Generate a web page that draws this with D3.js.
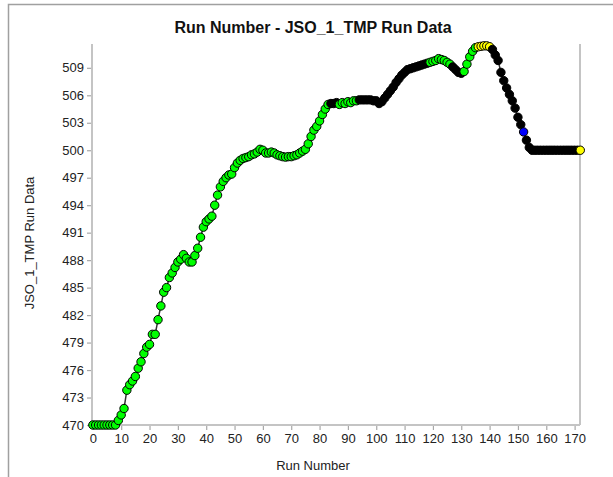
<!DOCTYPE html>
<html>
<head>
<meta charset="utf-8">
<script src="https://cdn.jsdelivr.net/npm/d3@7"></script>
<style>
  body { margin: 0; background: #fff; }
  text { font-family: Arial, "Liberation Sans", sans-serif; }
</style>
</head>
<body>
<div id="chart"></div>
<script>
// run values, one per run number starting at 0
const runValues = [
  470, 470, 470, 470, 470, 470, 470, 470, 470, 470.5,
  471.1, 471.8, 473.8, 474.4, 474.8, 475.3, 476.2, 476.9, 477.8, 478.5,
  478.8, 479.9, 479.9, 481.5, 483.0, 484.5, 485.0, 486.1, 486.6, 487.2,
  487.8, 488.1, 488.6, 488.2, 487.8, 487.8, 488.5, 489.3, 490.5, 491.6,
  492.2, 492.5, 492.8, 494.0, 495.1, 496.0, 496.6, 497.0, 497.3, 497.4,
  498.1, 498.6, 498.9, 499.1, 499.2, 499.3, 499.5, 499.6, 499.8, 500.1,
  500.0, 499.7, 499.7, 499.8, 499.7, 499.5, 499.4, 499.3, 499.25, 499.3,
  499.3, 499.4, 499.5, 499.7, 499.9, 500.1, 500.7, 501.5, 502.2, 502.6,
  503.2, 503.9, 504.5, 505.0, 505.1, 505.1, 505.2, 505.0, 505.2, 505.1,
  505.3, 505.2, 505.4, 505.4, 505.5, 505.5, 505.5, 505.5, 505.5, 505.4,
  505.4, 505.1, 505.3, 505.7, 506.1, 506.5, 506.9, 507.4, 507.8, 508.2,
  508.5, 508.8, 508.9, 509.0, 509.1, 509.2, 509.3, 509.4, 509.5, 509.6,
  509.7, 509.8, 510.0, 509.9, 509.8, 509.6, 509.4, 509.1, 508.8, 508.5,
  508.4, 508.6, 509.4, 510.2, 510.8, 511.2, 511.3, 511.35, 511.4, 511.4,
  511.3, 511.0, 510.4, 509.8, 508.5, 507.6, 506.8, 506.1, 505.4, 504.6,
  503.6, 502.8, 502.0, 501.1, 500.3, 500.0, 500.0, 500.0, 500.0, 500.0,
  500.0, 500.0, 500.0, 500.0, 500.0, 500.0, 500.0, 500.0, 500.0, 500.0,
  500.0, 500.0, 500.0
];

// marker status changes: first run of each segment and its status
const segStart  = [0,    84,     87,    94,     119,   127,    131,   136,      141,    152,    153,    172];
const segStatus = ["ok", "hold", "ok",  "hold", "ok",  "hold", "ok",  "warn",   "hold", "flag", "hold", "warn"];

const statusColors = { ok: "#00ff00", hold: "#000000", warn: "#ffff00", flag: "#0000ff" };

const xTicks = d3.range(0, 171, 10);
const yTicks = d3.range(470, 510, 3);

const title = "Run Number - JSO_1_TMP Run Data";
const xTitle = "Run Number";
const yTitle = "JSO_1_TMP Run Data";

const width = 613, height = 477;
const plotLeft = 92, plotRight = 580, plotTop = 44, plotBottom = 425;

function statusOf(i) {
  let s = segStatus[0];
  segStart.forEach((st, k) => { if (i >= st) s = segStatus[k]; });
  return s;
}

const data = runValues.map((v, i) => ({ run: i, value: v, status: statusOf(i) }));

const x = d3.scaleLinear().domain([-0.3, 171.9]).range([plotLeft, plotRight]);
const y = d3.scaleLinear().domain([470, 511.6]).range([plotBottom, plotTop]);

const svg = d3.select("#chart").append("svg")
  .attr("width", width)
  .attr("height", height);

// outer frame
svg.append("rect")
  .attr("x", 8.5).attr("y", 4.5)
  .attr("width", width + 10).attr("height", height + 10)
  .attr("fill", "none")
  .attr("stroke", "#a0a0a0")
  .attr("stroke-width", 1.5);

svg.append("text")
  .attr("x", 313).attr("y", 33)
  .attr("text-anchor", "middle")
  .attr("font-size", 16)
  .attr("font-weight", "bold")
  .attr("fill", "#111")
  .text(title);

// axes
const xAxis = svg.append("g")
  .attr("transform", `translate(0,${plotBottom})`)
  .call(d3.axisBottom(x).tickValues(xTicks).tickSize(5).tickPadding(4));
const yAxis = svg.append("g")
  .attr("transform", `translate(${plotLeft},0)`)
  .call(d3.axisLeft(y).tickValues(yTicks).tickSize(5).tickPadding(3));

[xAxis, yAxis].forEach(g => {
  g.select(".domain").remove();
  g.selectAll(".tick line").attr("stroke", "#a8a8a8").attr("stroke-width", 1.2);
  g.selectAll(".tick text")
    .attr("font-size", 13)
    .attr("font-family", "Arial, 'Liberation Sans', sans-serif")
    .attr("fill", "#222");
});

// axis lines
svg.append("line")
  .attr("x1", plotLeft).attr("x2", plotLeft).attr("y1", plotTop).attr("y2", plotBottom)
  .attr("stroke", "#c4c4c4").attr("stroke-width", 2);
svg.append("line")
  .attr("x1", plotLeft).attr("x2", plotRight).attr("y1", plotBottom).attr("y2", plotBottom)
  .attr("stroke", "#c4c4c4").attr("stroke-width", 2);
svg.append("line")
  .attr("x1", plotRight).attr("x2", plotRight).attr("y1", plotTop).attr("y2", plotBottom)
  .attr("stroke", "#c4c4c4").attr("stroke-width", 2);

svg.append("text")
  .attr("x", 313).attr("y", 470)
  .attr("text-anchor", "middle")
  .attr("font-size", 13)
  .attr("fill", "#222")
  .text(xTitle);

svg.append("text")
  .attr("transform", "translate(34,243) rotate(-90)")
  .attr("text-anchor", "middle")
  .attr("font-size", 13)
  .attr("fill", "#222")
  .text(yTitle);

// connecting line
svg.append("path")
  .datum(data)
  .attr("fill", "none")
  .attr("stroke", "#333")
  .attr("stroke-width", 1.5)
  .attr("d", d3.line().x(d => x(d.run)).y(d => y(d.value)));

svg.append("g")
  .selectAll("circle")
  .data(data)
  .join("circle")
  .attr("cx", d => x(d.run))
  .attr("cy", d => y(d.value))
  .attr("r", 4.2)
  .attr("fill", d => statusColors[d.status])
  .attr("stroke", "#000")
  .attr("stroke-width", 1);
</script>
</body>
</html>
